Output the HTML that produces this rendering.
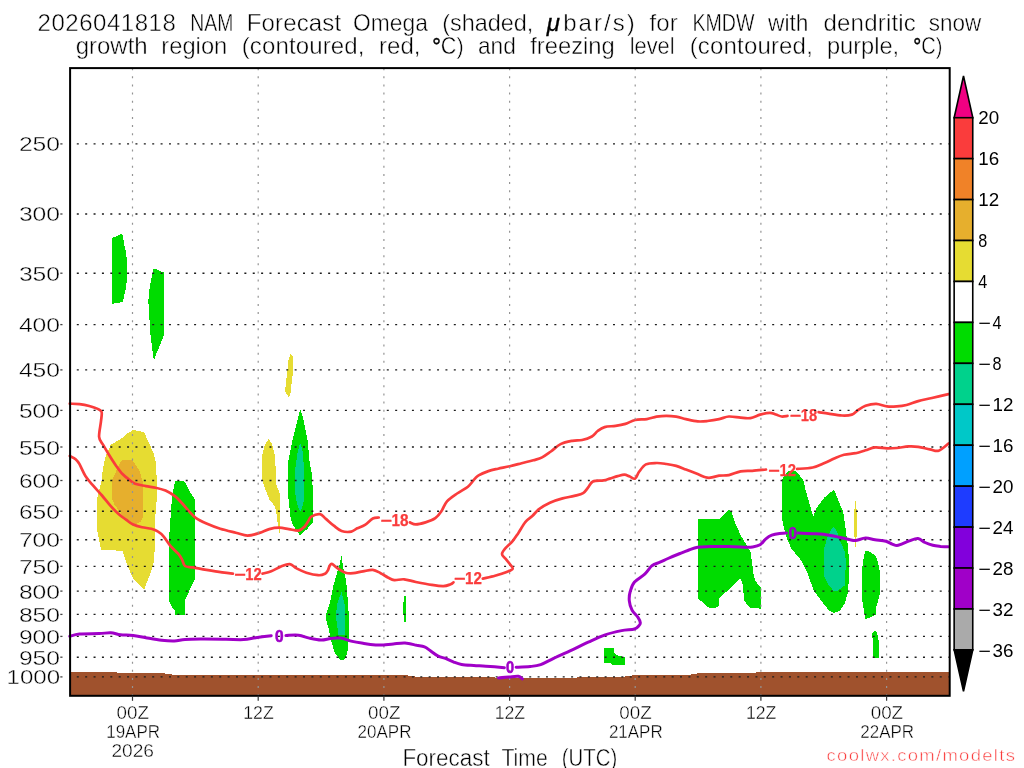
<!DOCTYPE html>
<html lang="en"><head><meta charset="utf-8"><title>NAM Forecast Omega KMDW</title>
<style>
html,body{margin:0;padding:0;background:#fff;}
body{width:1024px;height:768px;overflow:hidden;}
svg{display:block;font-family:"Liberation Sans",sans-serif;will-change:transform;}
.t{fill:#000;stroke:#fff;stroke-width:.45px;}
.ax{fill:#000;stroke:#fff;stroke-width:.4px;}
.cb{fill:#000;}
.lr{fill:#fa3c3c;font-weight:bold;stroke:#fa3c3c;stroke-width:.25px;stroke-linejoin:round;}
.lp{fill:#a000c8;font-weight:bold;stroke:#a000c8;stroke-width:.55px;stroke-linejoin:round;}
</style></head><body>
<svg width="1024" height="768" viewBox="0 0 1024 768">
<rect width="1024" height="768" fill="#fff"/>
<g shape-rendering="crispEdges">
<polygon fill="#00dc00" points="112.2,238.0 121.2,234.1 122.8,235.6 124.7,246.6 125.9,252.0 127.0,261.4 127.0,279.4 125.9,288.0 123.9,297.3 122.5,302.3 116.9,302.8 112.2,303.9"/>
<polygon fill="#00dc00" points="153.3,269.1 156.9,269.4 161.6,271.9 163.8,271.9 163.8,335.2 160.3,344.5 156.8,352.7 153.9,360.6 152.1,348.0 150.5,335.2 150.2,321.6 149.1,319.2 149.1,305.0 148.1,303.9 149.1,292.7 150.2,284.1 152.2,274.7"/>
<polygon fill="#e6dc32" points="290.4,354.4 293.4,357.4 293.4,368.0 290.4,393.8 288.7,397.3 285.0,391.4 286.9,375.0 288.7,358.6"/>
<polygon fill="#e6dc32" points="133.2,430.0 144.0,432.0 147.9,440.8 153.8,453.5 155.7,462.3 156.7,477.9 156.7,499.4 155.1,519.5 154.7,548.8 153.8,562.5 149.8,575.2 144.0,589.8 133.2,579.1 126.4,562.5 122.5,550.8 101.0,549.8 100.0,544.9 97.1,529.3 96.5,518.9 97.1,498.4 101.4,481.8 103.0,468.1 105.9,455.4 110.8,444.7 122.5,437.9 126.4,433.9"/>
<polygon fill="#e6af2d" points="122.5,459.9 132.3,459.9 135.2,464.2 140.1,472.0 142.6,481.8 143.0,517.0 141.1,521.2 135.2,524.8 129.3,522.8 122.5,515.0 114.7,505.2 112.3,499.4 112.3,479.8 116.6,470.1 120.5,462.3"/>
<polygon fill="#00dc00" points="175.2,481.4 184.0,481.0 187.0,485.7 190.9,493.5 194.8,499.4 194.8,579.1 188.9,591.8 184.6,600.6 184.6,614.6 175.2,614.6 175.2,611.3 172.3,607.4 169.0,600.6 169.0,539.0 170.4,519.5 171.3,505.2 173.3,489.6"/>
<polygon fill="#e6dc32" points="268.9,438.8 272.2,444.7 275.2,456.4 276.1,483.8 279.6,493.5 280.4,507.2 280.4,526.7 279.6,533.6 278.1,526.7 276.1,511.1 274.8,506.2 269.3,499.4 265.4,489.6 262.1,479.8 262.1,456.4 264.4,445.7"/>
<polygon fill="#00dc00" points="300.3,409.3 302.9,417.3 305.4,429.1 308.0,442.7 309.3,460.3 312.3,475.9 312.9,499.4 312.9,522.8 307.4,528.7 300.2,535.5 292.7,524.8 290.4,517.0 288.4,497.4 288.4,460.3 291.2,446.6 293.7,434.9 297.6,419.3"/>
<polygon fill="#00d28c" points="300.2,442.7 302.5,450.5 304.1,468.1 304.1,499.4 302.1,507.2 300.2,512.1 297.6,505.2 295.7,497.4 294.7,481.8 295.3,468.1 297.6,452.5"/>
<polygon fill="#00dc00" points="341.6,555.3 342.9,566.4 345.5,578.1 347.0,587.9 348.0,605.5 349.4,621.1 349.0,636.7 347.4,652.7 344.5,659.0 342.1,660.5 339.5,659.0 334.7,652.7 331.8,643.0 328.8,629.3 326.3,620.5 326.4,613.5 328.0,609.0 329.8,603.5 333.4,585.9 336.7,574.2 339.6,564.5"/>
<polygon fill="#00d28c" points="341.6,592.2 344.5,603.5 345.5,617.2 344.5,635.2 338.6,635.2 337.7,628.9 335.7,615.2 337.7,601.6"/>
<polygon fill="#00dc00" points="404.2,595.7 405.8,595.7 405.8,621.8 404.2,621.8 403.2,611.3 403.4,603.0"/>
<polygon fill="#00dc00" points="604.2,648.2 613.5,648.2 614.6,653.6 619.2,655.9 624.8,657.0 624.8,664.6 612.0,664.6 611.0,663.4 604.6,663.4 604.2,661.0"/>
<polygon fill="#00dc00" points="698.0,518.9 719.1,518.9 728.8,509.9 731.2,511.5 735.7,524.2 740.5,534.9 747.4,546.6 750.7,552.5 753.8,575.9 755.2,580.8 760.7,587.7 760.7,608.6 750.3,607.8 744.5,601.3 742.5,583.8 740.2,578.3 726.9,591.2 719.1,598.0 719.1,606.2 715.7,607.8 708.9,607.8 698.0,598.4"/>
<polygon fill="#00dc00" points="788.6,470.6 795.0,470.6 799.2,475.0 803.2,479.6 805.9,491.3 809.8,505.0 813.3,516.6 816.6,507.9 824.5,497.5 831.4,491.6 834.2,490.0 837.1,497.2 841.1,507.0 843.1,511.5 845.6,529.1 848.0,546.6 849.5,568.1 848.0,591.6 845.0,603.3 840.2,610.1 837.0,612.2 833.3,612.9 829.5,610.8 824.5,605.2 813.8,590.6 807.0,572.0 801.1,560.3 791.3,548.6 786.4,536.9 783.3,525.0 782.0,518.5 782.0,479.2 785.0,475.2"/>
<polygon fill="#00d28c" points="833.9,527.1 837.2,532.0 840.2,540.8 845.0,552.5 846.0,564.2 845.0,575.9 844.6,585.7 836.2,591.6 833.3,590.6 828.4,584.7 824.5,576.9 824.1,548.6 827.5,536.9 831.4,529.1"/>
<polygon fill="#e6dc32" points="853.9,508.6 856.8,508.6 856.8,536.9 853.9,536.9"/>
<polygon fill="#e6dc32" points="855.0,501.3 856.0,501.3 856.0,546.6 855.0,546.6"/>
<polygon fill="#00dc00" points="865.3,550.8 868.8,551.1 875.8,555.8 877.7,561.2 879.7,570.6 880.0,592.5 878.1,600.3 876.1,608.1 875.8,614.4 868.8,618.3 865.3,618.8 863.3,606.6 862.0,598.8 862.0,570.6 863.3,559.7"/>
<polygon fill="#00dc00" points="874.7,631.2 876.9,631.6 877.7,636.2 878.6,640.9 878.6,657.5 873.1,657.5 873.1,638.6 872.2,637.0 872.2,633.1"/>
<polygon fill="#a0522d" points="70.1,672.0 116.8,672.0 116.8,673.0 164.8,673.0 164.8,674.0 172.0,674.0 172.0,675.0 407.7,675.0 407.7,676.0 414.8,676.0 414.8,677.0 495.0,677.0 495.0,678.0 576.8,678.0 576.8,677.0 625.2,677.0 625.2,676.0 632.3,676.0 632.3,675.0 691.0,675.0 691.0,674.0 697.0,674.0 697.0,673.0 756.0,673.0 756.0,672.0 949.7,672.0 949.7,695.8 70.1,695.8"/>
</g>
<g fill="none" stroke-linecap="round" stroke-linejoin="round">
<path d="M69.8 403.7 C71.4 403.8 76.2 403.7 79.5 404.1 C82.8 404.5 86.4 405.2 89.3 406.0 C92.2 406.8 95.0 407.6 97.1 408.6 C99.1 409.6 100.9 409.8 101.6 411.9 C102.2 414.0 101.4 417.1 101.0 421.2 C100.6 425.4 98.8 433.0 99.1 436.9 C99.4 440.8 101.4 441.8 103.0 444.7 C104.6 447.6 106.7 451.1 108.8 454.5 C110.9 457.9 113.4 461.9 115.7 465.2 C118.0 468.4 120.2 471.6 122.5 474.0 C124.8 476.4 127.2 478.2 129.3 479.8 C131.4 481.4 132.4 482.7 135.2 483.8 C138.0 484.8 142.5 485.4 145.9 486.1 C149.3 486.8 152.4 486.9 155.7 487.7 C159.0 488.4 162.2 489.2 165.5 490.6 C168.8 492.1 172.4 494.3 175.2 496.4 C178.0 498.5 179.8 500.9 182.1 503.3 C184.4 505.8 186.6 508.7 188.9 511.1 C191.2 513.5 192.8 515.8 195.7 517.9 C198.6 520.0 202.4 521.8 206.5 523.6 C210.6 525.4 215.3 527.3 220.2 528.8 C225.1 530.3 231.2 531.6 235.8 532.7 C240.4 533.8 243.6 535.6 247.5 535.6 C251.4 535.6 255.9 534.0 259.5 532.9 C263.1 531.8 266.0 530.0 269.3 529.1 C272.6 528.2 275.9 527.7 279.1 527.7 C282.4 527.7 285.6 528.6 288.8 529.1 C292.1 529.6 296.0 531.0 298.6 530.6 C301.2 530.2 302.9 528.3 304.5 526.7 C306.1 525.1 307.3 522.6 308.4 520.9 C309.5 519.2 309.4 517.7 311.3 516.6 C313.2 515.5 317.7 513.8 320.1 514.2 C322.5 514.6 323.6 517.0 325.9 518.9 C328.2 520.8 331.1 523.7 333.8 525.7 C336.4 527.7 338.7 530.0 341.6 531.0 C344.5 532.0 348.7 532.1 351.3 531.6 C353.9 531.1 354.9 529.4 357.2 528.3 C359.5 527.2 362.4 526.4 365.0 524.8 C367.6 523.2 370.5 519.7 372.8 518.5 C375.1 517.3 377.7 517.7 378.7 517.5" stroke="#fa3c3c" stroke-width="2.7"/>
<path d="M409.9 522.4 C410.9 522.7 413.2 524.4 415.8 524.4 C418.4 524.4 422.2 523.4 425.5 522.4 C428.8 521.4 432.6 520.1 435.3 518.2 C438.0 516.3 439.6 513.9 441.5 511.1 C443.4 508.3 444.4 504.2 447.0 501.3 C449.6 498.4 453.6 495.9 457.1 493.5 C460.6 491.1 465.0 489.1 467.9 486.7 C470.8 484.3 472.9 480.8 474.7 478.9 C476.5 477.0 476.3 476.7 478.6 475.4 C480.9 474.1 485.1 472.2 488.4 471.1 C491.6 470.0 494.5 469.5 498.1 468.7 C501.7 467.9 505.9 467.1 509.8 466.2 C513.7 465.3 517.7 464.2 521.6 463.2 C525.5 462.2 529.9 461.3 533.3 460.3 C536.7 459.3 539.2 458.9 542.1 457.4 C545.0 455.9 547.8 453.7 550.9 451.5 C554.0 449.3 557.0 445.9 560.6 444.1 C564.2 442.3 568.7 441.5 572.3 440.8 C575.9 440.1 578.8 440.7 582.1 440.0 C585.4 439.3 589.3 438.0 591.9 436.5 C594.5 435.0 595.6 432.6 597.7 431.0 C599.8 429.4 601.6 428.0 604.6 427.1 C607.6 426.2 612.1 426.4 615.6 425.9 C619.1 425.4 622.1 424.9 625.4 423.9 C628.7 422.9 631.6 420.8 635.2 420.0 C638.8 419.2 643.3 419.7 646.9 419.1 C650.5 418.6 653.4 417.2 656.6 416.7 C659.9 416.2 663.1 415.9 666.4 415.9 C669.7 415.9 673.0 416.2 676.2 416.7 C679.5 417.2 682.3 418.3 685.9 419.1 C689.5 419.9 694.1 421.1 697.7 421.4 C701.3 421.7 703.8 421.4 707.4 421.0 C711.0 420.6 715.5 419.9 719.1 419.1 C722.7 418.4 725.3 416.7 728.9 416.5 C732.5 416.3 737.0 417.4 740.6 417.7 C744.2 418.0 747.1 418.6 750.4 418.1 C753.7 417.6 757.0 415.5 760.2 414.6 C763.5 413.7 767.3 412.8 769.9 412.8 C772.5 412.8 773.8 413.9 775.8 414.5 C777.8 415.1 779.6 416.3 781.6 416.5 C783.6 416.7 786.5 416.0 787.5 415.9" stroke="#fa3c3c" stroke-width="2.7"/>
<path d="M818.6 412.2 C820.2 412.4 824.5 413.1 828.4 413.6 C832.3 414.2 838.1 415.3 842.0 415.5 C845.9 415.7 849.2 415.5 851.8 414.6 C854.4 413.7 855.4 411.8 857.7 410.3 C860.0 408.8 862.4 406.9 865.5 405.8 C868.6 404.7 872.6 403.7 876.2 403.8 C879.8 403.9 883.6 406.0 887.0 406.4 C890.4 406.8 893.5 406.6 896.7 406.4 C900.0 406.2 902.9 405.9 906.5 405.0 C910.1 404.1 914.0 402.3 918.2 401.1 C922.4 399.9 926.9 399.2 931.9 398.0 C936.9 396.8 945.7 394.8 948.5 394.1" stroke="#fa3c3c" stroke-width="2.7"/>
</g>
<text class="lr" y="421.4" font-size="16"><tspan x="789.4" textLength="11.6" lengthAdjust="spacingAndGlyphs">−</tspan><tspan x="800.7" textLength="16.4" lengthAdjust="spacingAndGlyphs">18</tspan></text>
<g fill="none">
<line x1="76.80" y1="143.9" x2="948.7" y2="143.9" stroke="#1c1c1c" stroke-width="1.35" stroke-dasharray="2 6.378"/>
<line x1="60.3" y1="143.9" x2="62.5" y2="143.9" stroke="#444" stroke-width="1.3"/>
<line x1="76.80" y1="214.0" x2="948.7" y2="214.0" stroke="#1c1c1c" stroke-width="1.35" stroke-dasharray="2 6.378"/>
<line x1="60.3" y1="214.0" x2="62.5" y2="214.0" stroke="#444" stroke-width="1.3"/>
<line x1="76.80" y1="273.2" x2="948.7" y2="273.2" stroke="#1c1c1c" stroke-width="1.35" stroke-dasharray="2 6.378"/>
<line x1="60.3" y1="273.2" x2="62.5" y2="273.2" stroke="#444" stroke-width="1.3"/>
<line x1="76.80" y1="324.6" x2="948.7" y2="324.6" stroke="#1c1c1c" stroke-width="1.35" stroke-dasharray="2 6.378"/>
<line x1="60.3" y1="324.6" x2="62.5" y2="324.6" stroke="#444" stroke-width="1.3"/>
<line x1="76.80" y1="369.9" x2="948.7" y2="369.9" stroke="#1c1c1c" stroke-width="1.35" stroke-dasharray="2 6.378"/>
<line x1="60.3" y1="369.9" x2="62.5" y2="369.9" stroke="#444" stroke-width="1.3"/>
<line x1="76.80" y1="410.4" x2="948.7" y2="410.4" stroke="#1c1c1c" stroke-width="1.35" stroke-dasharray="2 6.378"/>
<line x1="60.3" y1="410.4" x2="62.5" y2="410.4" stroke="#444" stroke-width="1.3"/>
<line x1="76.80" y1="447.0" x2="948.7" y2="447.0" stroke="#1c1c1c" stroke-width="1.35" stroke-dasharray="2 6.378"/>
<line x1="60.3" y1="447.0" x2="62.5" y2="447.0" stroke="#444" stroke-width="1.3"/>
<line x1="76.80" y1="480.5" x2="948.7" y2="480.5" stroke="#1c1c1c" stroke-width="1.35" stroke-dasharray="2 6.378"/>
<line x1="60.3" y1="480.5" x2="62.5" y2="480.5" stroke="#444" stroke-width="1.3"/>
<line x1="76.80" y1="511.2" x2="948.7" y2="511.2" stroke="#1c1c1c" stroke-width="1.35" stroke-dasharray="2 6.378"/>
<line x1="60.3" y1="511.2" x2="62.5" y2="511.2" stroke="#444" stroke-width="1.3"/>
<line x1="76.80" y1="539.7" x2="948.7" y2="539.7" stroke="#1c1c1c" stroke-width="1.35" stroke-dasharray="2 6.378"/>
<line x1="60.3" y1="539.7" x2="62.5" y2="539.7" stroke="#444" stroke-width="1.3"/>
<line x1="76.80" y1="566.3" x2="948.7" y2="566.3" stroke="#1c1c1c" stroke-width="1.35" stroke-dasharray="2 6.378"/>
<line x1="60.3" y1="566.3" x2="62.5" y2="566.3" stroke="#444" stroke-width="1.3"/>
<line x1="76.80" y1="591.1" x2="948.7" y2="591.1" stroke="#1c1c1c" stroke-width="1.35" stroke-dasharray="2 6.378"/>
<line x1="60.3" y1="591.1" x2="62.5" y2="591.1" stroke="#444" stroke-width="1.3"/>
<line x1="76.80" y1="614.4" x2="948.7" y2="614.4" stroke="#1c1c1c" stroke-width="1.35" stroke-dasharray="2 6.378"/>
<line x1="60.3" y1="614.4" x2="62.5" y2="614.4" stroke="#444" stroke-width="1.3"/>
<line x1="76.80" y1="636.4" x2="948.7" y2="636.4" stroke="#1c1c1c" stroke-width="1.35" stroke-dasharray="2 6.378"/>
<line x1="60.3" y1="636.4" x2="62.5" y2="636.4" stroke="#444" stroke-width="1.3"/>
<line x1="76.80" y1="657.2" x2="948.7" y2="657.2" stroke="#1c1c1c" stroke-width="1.35" stroke-dasharray="2 6.378"/>
<line x1="60.3" y1="657.2" x2="62.5" y2="657.2" stroke="#444" stroke-width="1.3"/>
<line x1="76.80" y1="676.9" x2="948.7" y2="676.9" stroke="#1c1c1c" stroke-width="1.35" stroke-dasharray="2 6.378"/>
<line x1="60.3" y1="676.9" x2="62.5" y2="676.9" stroke="#444" stroke-width="1.3"/>
<line x1="132.5" y1="696.2" x2="132.5" y2="69.1" stroke="#949494" stroke-width="1.2" stroke-dasharray="2 6.130"/>
<line x1="258.2" y1="696.2" x2="258.2" y2="69.1" stroke="#949494" stroke-width="1.2" stroke-dasharray="2 6.130"/>
<line x1="383.9" y1="696.2" x2="383.9" y2="69.1" stroke="#949494" stroke-width="1.2" stroke-dasharray="2 6.130"/>
<line x1="509.6" y1="696.2" x2="509.6" y2="69.1" stroke="#949494" stroke-width="1.2" stroke-dasharray="2 6.130"/>
<line x1="635.2" y1="696.2" x2="635.2" y2="69.1" stroke="#949494" stroke-width="1.2" stroke-dasharray="2 6.130"/>
<line x1="760.9" y1="696.2" x2="760.9" y2="69.1" stroke="#949494" stroke-width="1.2" stroke-dasharray="2 6.130"/>
<line x1="886.6" y1="696.2" x2="886.6" y2="69.1" stroke="#949494" stroke-width="1.2" stroke-dasharray="2 6.130"/>
</g>
<rect x="382.6" y="513.6" width="2.6" height="13.6" fill="#fff"/>
<text class="lr" y="526.3" font-size="16"><tspan x="380.2" textLength="11.6" lengthAdjust="spacingAndGlyphs">−</tspan><tspan x="391.5" textLength="17.0" lengthAdjust="spacingAndGlyphs">18</tspan></text>
<g fill="none" stroke-linecap="round" stroke-linejoin="round">
<path d="M69.8 456.0 C70.8 456.6 74.0 457.9 75.6 459.3 C77.2 460.7 77.9 461.4 79.5 464.2 C81.1 467.0 83.1 472.3 85.4 475.9 C87.7 479.5 90.4 482.4 93.2 485.7 C96.0 489.0 99.1 492.1 102.0 495.5 C104.9 498.9 108.0 503.1 110.8 506.2 C113.6 509.3 116.0 511.7 118.6 514.0 C121.2 516.3 124.0 518.1 126.4 519.9 C128.8 521.7 130.6 523.4 133.2 524.6 C135.8 525.8 139.0 526.6 142.0 527.3 C145.0 528.0 148.7 528.1 151.3 528.8 C153.9 529.5 155.7 530.1 157.7 531.4 C159.7 532.6 161.4 533.9 163.5 536.3 C165.6 538.7 168.0 543.0 170.4 545.9 C172.8 548.8 176.2 551.4 178.2 553.7 C180.1 556.0 181.0 557.6 182.1 559.6 C183.2 561.6 183.2 564.7 185.0 566.0 C186.8 567.3 189.2 566.8 192.8 567.4 C196.4 568.0 201.6 569.1 206.5 569.9 C211.4 570.7 217.7 571.7 222.1 572.3 C226.5 572.9 231.1 573.4 232.9 573.6" stroke="#fa3c3c" stroke-width="2.7"/>
<path d="M262.5 573.6 C264.0 573.2 268.2 572.5 271.2 571.3 C274.3 570.1 277.9 567.6 281.0 566.4 C284.1 565.2 287.2 563.8 289.8 564.1 C292.4 564.4 293.8 567.0 296.6 568.4 C299.4 569.8 302.8 571.6 306.4 572.7 C310.0 573.8 315.0 575.0 318.1 575.2 C321.2 575.4 323.4 574.6 325.0 573.8 C326.6 573.0 327.1 571.7 327.9 570.3 C328.7 568.9 329.1 566.4 329.8 565.4 C330.5 564.4 330.9 563.6 332.2 564.1 C333.5 564.6 335.5 567.0 337.7 568.4 C339.9 569.8 342.9 571.9 345.5 572.7 C348.1 573.5 350.4 573.4 353.3 573.2 C356.2 573.0 359.8 571.8 363.0 571.3 C366.2 570.8 369.9 569.6 372.8 569.9 C375.7 570.2 378.0 571.9 380.6 573.2 C383.2 574.5 386.1 576.6 388.4 577.7 C390.7 578.9 391.7 579.8 394.3 580.1 C396.9 580.4 400.5 579.0 404.1 579.3 C407.7 579.6 411.2 581.1 415.8 582.0 C420.4 582.9 427.1 584.2 431.7 584.9 C436.3 585.6 440.2 586.2 443.4 586.1 C446.5 586.0 448.9 584.9 450.6 584.3 C452.3 583.7 453.0 582.6 453.5 582.3" stroke="#fa3c3c" stroke-width="2.7"/>
<path d="M482.8 578.6 C484.8 578.1 491.0 576.9 495.0 575.8 C499.0 574.7 503.8 573.2 506.7 572.0 C509.6 570.8 512.0 570.0 512.6 568.8 C513.2 567.5 511.4 566.2 510.2 564.5 C509.0 562.8 506.9 560.5 505.5 558.7 C504.1 557.0 502.0 555.8 502.0 554.0 C502.0 552.2 503.7 550.2 505.5 548.1 C507.3 546.0 510.5 543.6 512.6 541.1 C514.8 538.6 516.2 536.1 518.4 532.9 C520.5 529.7 523.2 524.6 525.5 521.8 C527.8 519.0 530.0 518.1 532.3 516.0 C534.6 513.9 536.2 511.3 539.1 509.1 C542.0 506.9 546.0 504.5 549.9 502.7 C553.8 500.9 558.5 499.5 562.6 498.4 C566.7 497.3 570.9 496.8 574.3 495.9 C577.7 495.0 580.8 494.5 583.1 493.1 C585.4 491.7 586.4 489.6 588.0 487.7 C589.6 485.8 590.3 482.6 592.9 481.4 C595.5 480.2 600.8 480.9 603.6 480.4 C606.4 479.9 607.5 479.3 609.8 478.6 C612.1 477.9 615.2 476.8 617.6 476.1 C620.0 475.5 622.5 474.7 624.4 474.7 C626.3 474.7 627.5 475.6 629.3 476.3 C631.1 477.0 633.6 479.4 635.2 478.6 C636.8 477.9 637.3 474.2 639.1 471.8 C640.9 469.4 643.0 465.9 645.9 464.4 C648.8 462.9 653.2 463.1 656.6 463.0 C660.0 462.9 663.1 463.5 666.4 464.0 C669.7 464.5 673.0 465.0 676.2 465.9 C679.5 466.8 682.3 468.1 685.9 469.5 C689.5 470.9 694.4 472.8 697.7 474.1 C701.0 475.4 703.4 476.7 705.5 477.3 C707.6 477.9 708.1 478.0 710.4 477.7 C712.7 477.4 716.0 476.1 719.1 475.7 C722.2 475.3 725.3 475.8 728.9 475.1 C732.5 474.4 736.7 472.1 740.6 471.4 C744.5 470.7 748.1 471.1 752.3 470.8 C756.5 470.5 763.7 469.7 766.0 469.5" stroke="#fa3c3c" stroke-width="2.7"/>
<path d="M797.1 468.9 C799.7 468.7 808.1 468.5 812.7 467.5 C817.3 466.5 820.9 464.5 824.5 463.0 C828.1 461.5 831.0 459.9 834.2 458.5 C837.5 457.1 840.4 455.7 844.0 454.8 C847.6 453.9 852.1 453.9 855.7 453.2 C859.3 452.4 862.2 451.3 865.5 450.3 C868.8 449.3 871.6 447.7 875.2 447.4 C878.8 447.1 883.4 448.3 887.0 448.4 C890.6 448.5 893.1 448.3 896.7 448.0 C900.3 447.7 904.8 446.6 908.4 446.4 C912.0 446.2 914.6 446.3 918.2 446.8 C921.8 447.3 926.5 448.7 929.9 449.3 C933.3 449.9 935.6 451.7 938.7 450.7 C941.8 449.7 946.9 444.7 948.5 443.5" stroke="#fa3c3c" stroke-width="2.7"/>
</g>
<text class="lr" y="579.5" font-size="16"><tspan x="233.9" textLength="11.6" lengthAdjust="spacingAndGlyphs">−</tspan><tspan x="245.2" textLength="16.4" lengthAdjust="spacingAndGlyphs">12</tspan></text>
<text class="lr" y="583.8" font-size="16"><tspan x="453.8" textLength="11.6" lengthAdjust="spacingAndGlyphs">−</tspan><tspan x="465.1" textLength="16.8" lengthAdjust="spacingAndGlyphs">12</tspan></text>
<text class="lr" y="476.1" font-size="16"><tspan x="768.1" textLength="11.6" lengthAdjust="spacingAndGlyphs">−</tspan><tspan x="779.4" textLength="16.5" lengthAdjust="spacingAndGlyphs">12</tspan></text>
<g fill="none" stroke-linecap="round" stroke-linejoin="round">
<path d="M69.8 636.3 C71.4 635.9 74.6 634.5 79.5 634.0 C84.4 633.5 93.9 633.8 99.1 633.6 C104.3 633.4 107.2 632.6 110.8 632.8 C114.4 633.0 116.8 634.4 120.5 634.8 C124.2 635.2 129.0 634.9 133.2 635.4 C137.4 635.9 141.2 636.9 145.9 637.7 C150.6 638.5 156.9 639.7 161.6 640.2 C166.3 640.8 170.4 641.1 174.3 641.0 C178.2 640.9 180.6 639.9 185.0 639.6 C189.4 639.3 193.8 639.2 200.6 639.1 C207.4 639.0 218.8 639.2 226.0 639.3 C233.2 639.4 238.7 639.9 243.6 639.6 C248.5 639.3 251.0 638.4 255.6 637.7 C260.2 637.1 268.6 636.0 271.2 635.7" stroke="#a000c8" stroke-width="3"/>
<path d="M285.9 635.4 C288.0 635.4 294.7 634.8 298.6 635.2 C302.5 635.7 305.6 637.3 309.3 638.1 C313.0 638.9 317.4 639.9 321.0 640.0 C324.6 640.1 327.6 638.8 330.8 638.5 C334.1 638.2 336.9 637.6 340.5 638.1 C344.1 638.6 348.4 640.5 352.3 641.4 C356.2 642.3 360.1 642.8 364.0 643.4 C367.9 644.0 372.4 644.6 375.7 644.9 C378.9 645.1 380.6 645.1 383.5 644.9 C386.4 644.7 389.7 644.2 393.3 643.9 C396.9 643.6 401.1 642.8 405.0 643.0 C408.9 643.2 413.4 644.6 416.7 645.3 C419.9 645.9 422.2 646.0 424.5 646.9 C426.8 647.8 428.1 649.2 430.4 650.8 C432.7 652.4 435.6 655.0 438.2 656.2 C440.8 657.5 443.4 657.6 446.0 658.6 C448.6 659.6 451.2 661.1 453.8 662.1 C456.4 663.1 458.2 663.9 461.6 664.5 C465.0 665.1 469.1 665.2 473.9 665.5 C478.7 665.8 485.2 666.1 490.3 666.5 C495.4 666.9 502.0 667.5 504.4 667.7" stroke="#a000c8" stroke-width="3"/>
<path d="M516.1 667.2 C518.5 667.1 526.1 666.9 530.2 666.5 C534.3 666.1 536.8 666.0 540.7 664.6 C544.6 663.2 548.7 660.6 553.6 658.3 C558.5 656.0 564.1 653.5 570.0 650.8 C575.9 648.1 582.9 644.6 588.8 641.9 C594.6 639.2 599.7 636.7 605.2 634.8 C610.7 632.9 616.7 631.6 621.6 630.6 C626.5 629.6 631.6 629.9 634.5 629.0 C637.4 628.1 638.1 626.5 639.1 625.5 C640.1 624.5 640.5 624.1 640.3 622.7 C640.1 621.3 639.4 619.4 638.0 617.3 C636.6 615.2 633.6 612.9 632.1 610.2 C630.6 607.5 629.6 604.0 629.3 600.9 C629.0 597.8 629.3 594.6 630.2 591.5 C631.1 588.4 632.0 585.0 634.5 582.1 C637.0 579.2 642.1 576.6 645.0 573.9 C647.9 571.2 649.5 567.7 652.0 565.7 C654.5 563.8 657.3 563.4 660.0 562.2 C662.7 561.0 664.7 560.0 668.0 558.5 C671.3 557.0 676.7 554.8 680.0 553.5 C683.3 552.2 684.9 551.5 687.8 550.5 C690.7 549.5 694.0 547.9 697.6 547.2 C701.2 546.6 704.1 546.7 709.3 546.6 C714.5 546.5 722.6 546.5 728.8 546.6 C735.0 546.7 742.5 547.1 746.4 547.2 C750.3 547.3 750.0 547.4 752.3 547.0 C754.6 546.6 757.8 546.1 760.1 544.7 C762.4 543.3 764.0 540.4 765.9 538.8 C767.8 537.2 769.5 536.0 771.8 535.1 C774.1 534.2 777.2 533.7 779.6 533.4 C782.0 533.1 785.3 533.1 786.4 533.1" stroke="#a000c8" stroke-width="3"/>
<path d="M798.2 533.0 C800.6 533.1 808.6 533.5 812.8 533.7 C817.0 533.9 819.0 533.7 823.4 534.3 C827.8 534.9 834.6 536.3 839.0 537.2 C843.4 538.1 847.2 539.2 850.0 539.7 C852.8 540.2 852.9 540.8 855.5 540.5 C858.1 540.2 862.4 538.2 865.6 538.1 C868.9 538.0 871.6 539.2 875.0 539.7 C878.4 540.2 883.0 540.5 885.9 541.2 C888.8 542.0 890.4 543.4 892.2 544.1 C894.0 544.8 895.3 545.6 896.9 545.6 C898.5 545.6 899.5 544.9 901.6 544.1 C903.7 543.3 906.7 541.8 909.4 540.9 C912.1 540.0 915.4 538.3 918.0 538.6 C920.6 538.9 922.5 541.4 925.0 542.5 C927.5 543.6 930.2 544.6 932.8 545.2 C935.4 545.9 938.0 546.1 940.6 546.4 C943.2 546.6 947.1 546.7 948.4 546.7" stroke="#a000c8" stroke-width="3"/>
<path d="M498.5 677.9 C500.3 677.8 505.8 677.3 509.1 677.0 C512.4 676.7 516.2 676.0 518.4 676.3 C520.6 676.6 521.6 678.5 522.3 678.9" stroke="#a000c8" stroke-width="3"/>
</g>
<text class="lp" x="274.9" y="641.6" font-size="16" textLength="8.6" lengthAdjust="spacingAndGlyphs">0</text>
<text class="lp" x="506.0" y="673.1" font-size="16" textLength="8.1" lengthAdjust="spacingAndGlyphs">0</text>
<text class="lp" x="788.4" y="539.1" font-size="16" textLength="8.5" lengthAdjust="spacingAndGlyphs">0</text>
<rect x="70.1" y="68.1" width="879.6" height="627.7" fill="none" stroke="#000" stroke-width="2"/>
<line x1="132.5" y1="695.8" x2="132.5" y2="700.8" stroke="#333" stroke-width="1.2"/>
<line x1="258.2" y1="695.8" x2="258.2" y2="700.8" stroke="#333" stroke-width="1.2"/>
<line x1="383.9" y1="695.8" x2="383.9" y2="700.8" stroke="#333" stroke-width="1.2"/>
<line x1="509.6" y1="695.8" x2="509.6" y2="700.8" stroke="#333" stroke-width="1.2"/>
<line x1="635.2" y1="695.8" x2="635.2" y2="700.8" stroke="#333" stroke-width="1.2"/>
<line x1="760.9" y1="695.8" x2="760.9" y2="700.8" stroke="#333" stroke-width="1.2"/>
<line x1="886.6" y1="695.8" x2="886.6" y2="700.8" stroke="#333" stroke-width="1.2"/>
<g stroke="#000" stroke-width="1.6" stroke-linejoin="miter">
<polygon fill="#f00082" points="954.15,117.7 963.5,76.0 972.8,117.7"/>
<rect x="954.15" y="117.70" width="18.6" height="40.94" fill="#fa3c3c"/>
<rect x="954.15" y="158.64" width="18.6" height="40.94" fill="#f08228"/>
<rect x="954.15" y="199.58" width="18.6" height="40.94" fill="#e6af2d"/>
<rect x="954.15" y="240.52" width="18.6" height="40.94" fill="#e6dc32"/>
<rect x="954.15" y="281.46" width="18.6" height="40.94" fill="#fff"/>
<rect x="954.15" y="322.40" width="18.6" height="40.94" fill="#00dc00"/>
<rect x="954.15" y="363.34" width="18.6" height="40.94" fill="#00d28c"/>
<rect x="954.15" y="404.28" width="18.6" height="40.94" fill="#00c8c8"/>
<rect x="954.15" y="445.22" width="18.6" height="40.94" fill="#00a0ff"/>
<rect x="954.15" y="486.16" width="18.6" height="40.94" fill="#1e3cff"/>
<rect x="954.15" y="527.10" width="18.6" height="40.94" fill="#8200dc"/>
<rect x="954.15" y="568.04" width="18.6" height="40.94" fill="#a000c8"/>
<rect x="954.15" y="608.98" width="18.6" height="40.94" fill="#aaaaaa"/>
<polygon fill="#000" points="954.15,649.9 963.5,691.4 972.8,649.9"/>
</g>
<text class="cb" x="978.3" y="124.3" font-size="17.8" textLength="20.9" lengthAdjust="spacingAndGlyphs">20</text>
<text class="cb" x="978.3" y="165.3" font-size="17.8" textLength="20.9" lengthAdjust="spacingAndGlyphs">16</text>
<text class="cb" x="978.3" y="206.2" font-size="17.8" textLength="20.9" lengthAdjust="spacingAndGlyphs">12</text>
<text class="cb" x="978.3" y="247.2" font-size="17.8" textLength="9.0" lengthAdjust="spacingAndGlyphs">8</text>
<text class="cb" x="978.3" y="288.2" font-size="17.8" textLength="9.0" lengthAdjust="spacingAndGlyphs">4</text>
<text class="cb" y="329.1" font-size="17.8"><tspan x="978.2" textLength="12.6" lengthAdjust="spacingAndGlyphs">−</tspan><tspan x="992.6" textLength="9.0" lengthAdjust="spacingAndGlyphs">4</tspan></text>
<text class="cb" y="370.1" font-size="17.8"><tspan x="978.2" textLength="12.6" lengthAdjust="spacingAndGlyphs">−</tspan><tspan x="992.6" textLength="9.0" lengthAdjust="spacingAndGlyphs">8</tspan></text>
<text class="cb" y="411.1" font-size="17.8"><tspan x="978.2" textLength="12.6" lengthAdjust="spacingAndGlyphs">−</tspan><tspan x="992.6" textLength="20.9" lengthAdjust="spacingAndGlyphs">12</tspan></text>
<text class="cb" y="452.1" font-size="17.8"><tspan x="978.2" textLength="12.6" lengthAdjust="spacingAndGlyphs">−</tspan><tspan x="992.6" textLength="20.9" lengthAdjust="spacingAndGlyphs">16</tspan></text>
<text class="cb" y="493.0" font-size="17.8"><tspan x="978.2" textLength="12.6" lengthAdjust="spacingAndGlyphs">−</tspan><tspan x="992.6" textLength="20.9" lengthAdjust="spacingAndGlyphs">20</tspan></text>
<text class="cb" y="534.0" font-size="17.8"><tspan x="978.2" textLength="12.6" lengthAdjust="spacingAndGlyphs">−</tspan><tspan x="992.6" textLength="20.9" lengthAdjust="spacingAndGlyphs">24</tspan></text>
<text class="cb" y="575.0" font-size="17.8"><tspan x="978.2" textLength="12.6" lengthAdjust="spacingAndGlyphs">−</tspan><tspan x="992.6" textLength="20.9" lengthAdjust="spacingAndGlyphs">28</tspan></text>
<text class="cb" y="615.9" font-size="17.8"><tspan x="978.2" textLength="12.6" lengthAdjust="spacingAndGlyphs">−</tspan><tspan x="992.6" textLength="20.9" lengthAdjust="spacingAndGlyphs">32</tspan></text>
<text class="cb" y="656.9" font-size="17.8"><tspan x="978.2" textLength="12.6" lengthAdjust="spacingAndGlyphs">−</tspan><tspan x="992.6" textLength="20.9" lengthAdjust="spacingAndGlyphs">36</tspan></text>
<text class="ax" x="18.9" y="151.3" font-size="20.6" textLength="41.2" lengthAdjust="spacingAndGlyphs">250</text>
<text class="ax" x="18.9" y="221.4" font-size="20.6" textLength="41.2" lengthAdjust="spacingAndGlyphs">300</text>
<text class="ax" x="18.9" y="280.7" font-size="20.6" textLength="41.2" lengthAdjust="spacingAndGlyphs">350</text>
<text class="ax" x="18.9" y="332.0" font-size="20.6" textLength="41.2" lengthAdjust="spacingAndGlyphs">400</text>
<text class="ax" x="18.9" y="377.3" font-size="20.6" textLength="41.2" lengthAdjust="spacingAndGlyphs">450</text>
<text class="ax" x="18.9" y="417.8" font-size="20.6" textLength="41.2" lengthAdjust="spacingAndGlyphs">500</text>
<text class="ax" x="18.9" y="454.5" font-size="20.6" textLength="41.2" lengthAdjust="spacingAndGlyphs">550</text>
<text class="ax" x="18.9" y="487.9" font-size="20.6" textLength="41.2" lengthAdjust="spacingAndGlyphs">600</text>
<text class="ax" x="18.9" y="518.7" font-size="20.6" textLength="41.2" lengthAdjust="spacingAndGlyphs">650</text>
<text class="ax" x="18.9" y="547.2" font-size="20.6" textLength="41.2" lengthAdjust="spacingAndGlyphs">700</text>
<text class="ax" x="18.9" y="573.7" font-size="20.6" textLength="41.2" lengthAdjust="spacingAndGlyphs">750</text>
<text class="ax" x="18.9" y="598.5" font-size="20.6" textLength="41.2" lengthAdjust="spacingAndGlyphs">800</text>
<text class="ax" x="18.9" y="621.8" font-size="20.6" textLength="41.2" lengthAdjust="spacingAndGlyphs">850</text>
<text class="ax" x="18.9" y="643.8" font-size="20.6" textLength="41.2" lengthAdjust="spacingAndGlyphs">900</text>
<text class="ax" x="18.9" y="664.6" font-size="20.6" textLength="41.2" lengthAdjust="spacingAndGlyphs">950</text>
<text class="ax" x="6.5" y="684.3" font-size="20.6" textLength="53.6" lengthAdjust="spacingAndGlyphs">1000</text>
<text class="ax" x="116.6" y="719.0" font-size="19" textLength="32.4" lengthAdjust="spacingAndGlyphs">00Z</text>
<text class="ax" x="106.2" y="738.2" font-size="19" textLength="53.8" lengthAdjust="spacingAndGlyphs">19APR</text>
<text class="ax" x="243.3" y="719.0" font-size="19" textLength="30.4" lengthAdjust="spacingAndGlyphs">12Z</text>
<text class="ax" x="368.0" y="719.0" font-size="19" textLength="32.4" lengthAdjust="spacingAndGlyphs">00Z</text>
<text class="ax" x="357.6" y="738.2" font-size="19" textLength="53.8" lengthAdjust="spacingAndGlyphs">20APR</text>
<text class="ax" x="494.7" y="719.0" font-size="19" textLength="30.4" lengthAdjust="spacingAndGlyphs">12Z</text>
<text class="ax" x="619.3" y="719.0" font-size="19" textLength="32.4" lengthAdjust="spacingAndGlyphs">00Z</text>
<text class="ax" x="608.9" y="738.2" font-size="19" textLength="53.8" lengthAdjust="spacingAndGlyphs">21APR</text>
<text class="ax" x="746.0" y="719.0" font-size="19" textLength="30.4" lengthAdjust="spacingAndGlyphs">12Z</text>
<text class="ax" x="870.7" y="719.0" font-size="19" textLength="32.4" lengthAdjust="spacingAndGlyphs">00Z</text>
<text class="ax" x="860.3" y="738.2" font-size="19" textLength="53.8" lengthAdjust="spacingAndGlyphs">22APR</text>
<text class="ax" x="111.4" y="757.1" font-size="19" textLength="42.6" lengthAdjust="spacingAndGlyphs">2026</text>
<text class="t" x="37.5" y="31.0" font-size="24" textLength="138.3" lengthAdjust="spacing">2026041818</text>
<text class="t" x="190.2" y="31.0" font-size="24" textLength="43.1" lengthAdjust="spacingAndGlyphs">NAM</text>
<text class="t" x="246.7" y="31.0" font-size="24" textLength="94.5" lengthAdjust="spacing">Forecast</text>
<text class="t" x="353.1" y="31.0" font-size="24" textLength="74.7" lengthAdjust="spacingAndGlyphs">Omega</text>
<text class="t" x="442.2" y="31.0" font-size="24" textLength="91.2" lengthAdjust="spacingAndGlyphs">(shaded,</text>
<text class="t" x="546.8" y="31.0" font-size="24" textLength="16.2" lengthAdjust="spacing"><tspan font-style="italic" stroke="#000" stroke-width=".35">μ</tspan></text>
<text class="t" x="563.2" y="31.0" font-size="24" textLength="71.6" lengthAdjust="spacing">bar/s)</text>
<text class="t" x="649.6" y="31.0" font-size="24" textLength="28.2" lengthAdjust="spacing">for</text>
<text class="t" x="692.4" y="31.0" font-size="24" textLength="62.0" lengthAdjust="spacingAndGlyphs">KMDW</text>
<text class="t" x="768.1" y="31.0" font-size="24" textLength="40.4" lengthAdjust="spacingAndGlyphs">with</text>
<text class="t" x="823.5" y="31.0" font-size="24" textLength="92.3" lengthAdjust="spacing">dendritic</text>
<text class="t" x="928.8" y="31.0" font-size="24" textLength="52.4" lengthAdjust="spacingAndGlyphs">snow</text>
<text class="t" x="75.7" y="54.0" font-size="24" textLength="72.0" lengthAdjust="spacingAndGlyphs">growth</text>
<text class="t" x="161.3" y="54.0" font-size="24" textLength="66.0" lengthAdjust="spacingAndGlyphs">region</text>
<text class="t" x="241.7" y="54.0" font-size="24" textLength="122.8" lengthAdjust="spacing">(contoured,</text>
<text class="t" x="379.0" y="54.0" font-size="24" textLength="41.5" lengthAdjust="spacing">red,</text>
<text class="t" x="432.2" y="54.0" font-size="24" textLength="31.4" lengthAdjust="spacingAndGlyphs"><tspan stroke="#000" stroke-width=".5">°</tspan>C)</text>
<text class="t" x="478.0" y="54.0" font-size="24" textLength="37.8" lengthAdjust="spacingAndGlyphs">and</text>
<text class="t" x="530.2" y="54.0" font-size="24" textLength="84.6" lengthAdjust="spacingAndGlyphs">freezing</text>
<text class="t" x="629.7" y="54.0" font-size="24" textLength="44.8" lengthAdjust="spacingAndGlyphs">level</text>
<text class="t" x="689.7" y="54.0" font-size="24" textLength="123.1" lengthAdjust="spacing">(contoured,</text>
<text class="t" x="826.9" y="54.0" font-size="24" textLength="72.3" lengthAdjust="spacingAndGlyphs">purple,</text>
<text class="t" x="913.2" y="54.0" font-size="24" textLength="29.1" lengthAdjust="spacingAndGlyphs"><tspan stroke="#000" stroke-width=".5">°</tspan>C)</text>
<text class="t" x="402.4" y="765.8" font-size="23" textLength="87.3" lengthAdjust="spacingAndGlyphs">Forecast</text>
<text class="t" x="501.4" y="765.8" font-size="23" textLength="46.4" lengthAdjust="spacingAndGlyphs">Time</text>
<text class="t" x="561.8" y="765.8" font-size="23" textLength="55.4" lengthAdjust="spacingAndGlyphs">(UTC)</text>
<text x="826.6" y="760.5" font-size="17" fill="#fa3c3c" stroke="#fff" stroke-width=".5" letter-spacing="1.2" textLength="189.6" lengthAdjust="spacingAndGlyphs">coolwx.com/modelts</text>
</svg>
</body></html>
